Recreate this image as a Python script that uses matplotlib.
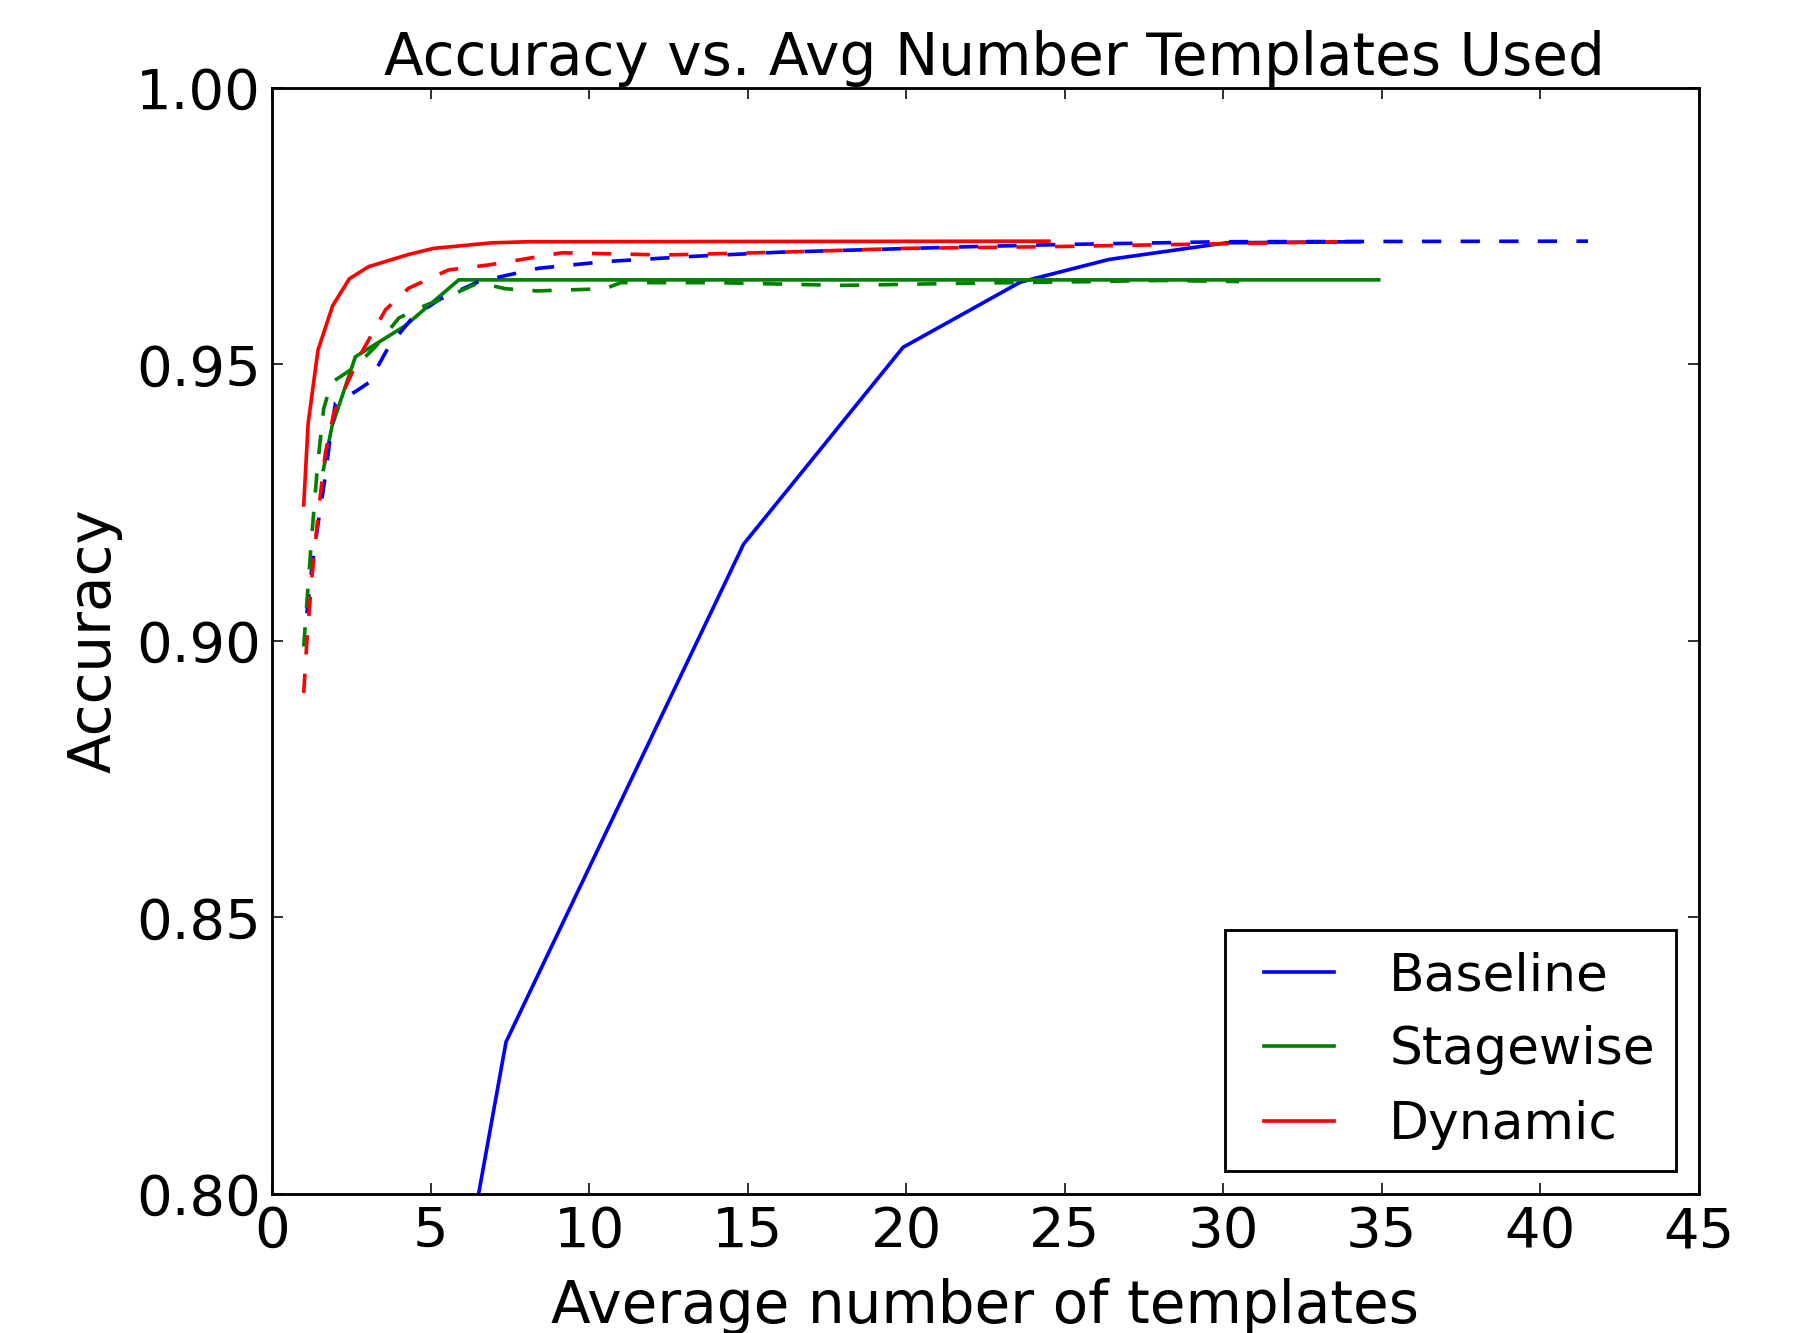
import matplotlib
matplotlib.use("Agg")
import matplotlib.pyplot as plt
from matplotlib.legend_handler import HandlerLine2D

# values
base_solid_x = [6.2, 7.38, 14.87, 19.9, 23.6, 26.4, 30.1, 34.3]
base_solid_y = [0.790, 0.8275, 0.9175, 0.9531, 0.9649, 0.9690, 0.9720, 0.9722]

base_dash_x = [1.1, 1.26, 1.47, 1.68, 1.84, 2.0, 2.63, 3.05, 3.68, 4.42, 5.26,
               6.52, 8.41, 10.5, 13.1, 16, 19, 22, 25, 28, 30, 41.5]
base_dash_y = [0.905, 0.9134, 0.9219, 0.9297, 0.937, 0.943, 0.9451, 0.9467,
               0.9532, 0.9584, 0.9617, 0.9650, 0.9674, 0.9686, 0.9695, 0.9703,
               0.9708, 0.9713, 0.9717, 0.9720, 0.9722, 0.9723]

stage_solid_x = [1.62, 1.89, 2.63, 4.2, 5.89, 34.9]
stage_solid_y = [0.931, 0.9388, 0.9514, 0.957, 0.9653, 0.9653]

stage_dash_x = [1.0, 1.24, 1.44, 1.63, 1.87, 2.63, 3.26, 4.0, 4.63, 5.68, 6.52,
                7.36, 8.36, 10.5, 11.0, 14, 18, 22, 26, 28, 30.5]
stage_dash_y = [0.899, 0.918, 0.932, 0.942, 0.9467, 0.9496, 0.9532, 0.9584,
                0.9602, 0.9626, 0.9648, 0.9637, 0.9633, 0.9637, 0.9648, 0.9648,
                0.9643, 0.9647, 0.9650, 0.9652, 0.9650]

dyn_solid_x = [1.0, 1.14, 1.45, 1.91, 2.44, 3.05, 4.31, 5.1, 6.94, 8.1, 24.5]
dyn_solid_y = [0.9246, 0.9394, 0.9526, 0.9606, 0.9655, 0.9677, 0.9699, 0.9710,
               0.9720, 0.9722, 0.9723]

dyn_dash_x = [1.0, 1.1, 1.26, 1.47, 1.68, 1.95, 2.42, 2.84, 3.58, 4.31, 5.57,
              6.83, 9.15, 12.4, 16, 20, 24.5, 27.5, 30.7, 33.6]
dyn_dash_y = [0.8906, 0.900, 0.9116, 0.9237, 0.9339, 0.9412, 0.9472, 0.9523,
              0.9599, 0.9638, 0.9671, 0.9680, 0.9702, 0.9698, 0.9703, 0.9710,
              0.9713, 0.9716, 0.9719, 0.9722]


class PaddedLine(HandlerLine2D):
    # start the legend line a little to the right, like the old legend did
    def create_artists(self, legend, orig_handle, xdescent, ydescent, width,
                       height, fontsize, trans):
        pad = 0.35 * fontsize
        return super().create_artists(legend, orig_handle, xdescent - pad,
                                      ydescent, width - pad, height,
                                      fontsize, trans)


DPI = 228
LW = 1.15
fig = plt.figure(figsize=(1799 / DPI, 1333 / DPI), dpi=DPI)
ax = fig.add_axes([0.1512, 0.1043, 0.7932, 0.8297])

ax.plot(base_solid_x, base_solid_y, color="b", lw=LW, label="Baseline")
ax.plot(stage_solid_x, stage_solid_y, color="g", lw=LW, label="Stagewise")
ax.plot(dyn_solid_x, dyn_solid_y, color="r", lw=LW, label="Dynamic")
ax.plot(base_dash_x, base_dash_y, color="b", lw=LW, dashes=(5.3, 5.3))
ax.plot(stage_dash_x, stage_dash_y, color="g", lw=LW, dashes=(5.3, 5.3))
ax.plot(dyn_dash_x, dyn_dash_y, color="r", lw=LW, dashes=(5.3, 5.3))

ax.set_xlim(0, 45)
ax.set_ylim(0.80, 1.00)
ax.set_xticks(range(0, 46, 5))
ax.set_yticks([0.80, 0.85, 0.90, 0.95, 1.00])
ax.set_yticklabels(["0.80", "0.85", "0.90", "0.95", "1.00"])
ax.tick_params(direction="in", top=True, right=True, length=3.6, width=0.5,
               labelsize=17.7, pad=3.5)
for s in ax.spines.values():
    s.set_linewidth(0.9)

ax.set_title("Accuracy vs. Avg Number Templates Used", fontsize=18.3, pad=4,
             x=0.506)
ax.set_xlabel("Average number of templates", fontsize=18.3, labelpad=6)
ax.set_ylabel("Accuracy", fontsize=18.3, labelpad=4.2)

leg = ax.legend(loc="lower right", fontsize=16.4, fancybox=False,
                edgecolor="black", framealpha=1, handlelength=1.70,
                handletextpad=1.06, borderpad=0.4, labelspacing=0.47,
                borderaxespad=0.45,
                handler_map={matplotlib.lines.Line2D: PaddedLine()})
leg.get_frame().set_linewidth(0.9)

fig.savefig("out.png", dpi=DPI)
